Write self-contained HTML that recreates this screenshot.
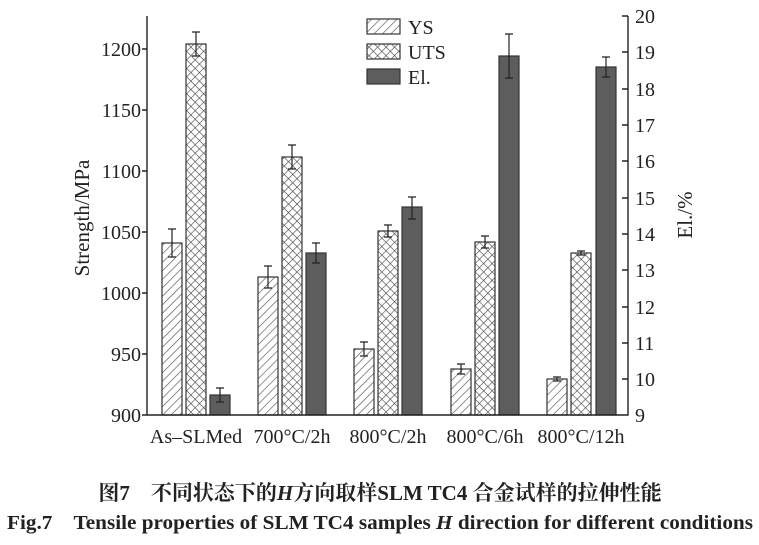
<!DOCTYPE html>
<html><head><meta charset="utf-8"><style>
body{margin:0;background:#fff;}
svg{display:block;font-family:"Liberation Serif",serif;}
</style></head><body>
<svg width="759" height="545" viewBox="0 0 759 545">
<defs>
<pattern id="hatch" width="6" height="6" patternUnits="userSpaceOnUse" patternTransform="rotate(45)">
<rect width="6" height="6" fill="#fff"/><line x1="0" y1="0" x2="0" y2="6" stroke="#555" stroke-width="1.3"/>
</pattern>
<pattern id="cross" width="6" height="6" patternUnits="userSpaceOnUse" patternTransform="rotate(45)">
<rect width="6" height="6" fill="#fff"/><line x1="0" y1="0" x2="0" y2="6" stroke="#444" stroke-width="1.2"/><line x1="0" y1="0" x2="6" y2="0" stroke="#444" stroke-width="1.2"/>
</pattern>
</defs>
<g stroke="#333" stroke-width="1.2">
<rect x="162" y="243" width="20" height="172" fill="url(#hatch)"/>
<rect x="186" y="44" width="20" height="371" fill="url(#cross)"/>
<rect x="210" y="395" width="20" height="20" fill="#5d5d5d"/>
<rect x="258" y="277" width="20" height="138" fill="url(#hatch)"/>
<rect x="282" y="157" width="20" height="258" fill="url(#cross)"/>
<rect x="306" y="253" width="20" height="162" fill="#5d5d5d"/>
<rect x="354" y="349" width="20" height="66" fill="url(#hatch)"/>
<rect x="378" y="231" width="20" height="184" fill="url(#cross)"/>
<rect x="402" y="207" width="20" height="208" fill="#5d5d5d"/>
<rect x="451" y="369" width="20" height="46" fill="url(#hatch)"/>
<rect x="475" y="242" width="20" height="173" fill="url(#cross)"/>
<rect x="499" y="56" width="20" height="359" fill="#5d5d5d"/>
<rect x="547" y="379" width="20" height="36" fill="url(#hatch)"/>
<rect x="571" y="253" width="20" height="162" fill="url(#cross)"/>
<rect x="596" y="67" width="20" height="348" fill="#5d5d5d"/>
<path fill="none" stroke="#222" d="
M172 229V257M168 229h8M168 257h8
M196 32V56M192 32h8M192 56h8
M220 388V402M216 388h8M216 402h8
M268 266V288M264 266h8M264 288h8
M292 145V169M288 145h8M288 169h8
M316 243V263M312 243h8M312 263h8
M364 342V356M360 342h8M360 356h8
M388 225V237M384 225h8M384 237h8
M412 197V219M408 197h8M408 219h8
M461 364V374M457 364h8M457 374h8
M485 236V248M481 236h8M481 248h8
M509 34V78M505 34h8M505 78h8
M557 377V381M553 377h8M553 381h8
M581 251V255M577 251h8M577 255h8
M606 57V77M602 57h8M602 77h8"/>
<path fill="none" stroke="#222" stroke-width="1.4" d="M147 16V415H628V16
M147 49h-5M147 110h-5M147 171h-5M147 232h-5M147 293h-5M147 354h-5M147 415h-5
M628 16h-6M628 52h-6M628 89h-6M628 125h-6M628 161h-6M628 198h-6M628 234h-6M628 270h-6M628 307h-6M628 343h-6M628 379h-6"/>
<rect x="367" y="19" width="33" height="15" fill="url(#hatch)"/>
<rect x="367" y="44" width="33" height="15" fill="url(#cross)"/>
<rect x="367" y="69" width="33" height="15" fill="#5d5d5d"/>
</g>
<g font-size="20" fill="#222">
<text x="408" y="34">YS</text>
<text x="408" y="59">UTS</text>
<text x="408" y="84">El.</text>
<g text-anchor="end">
<text x="141" y="56">1200</text><text x="141" y="117">1150</text><text x="141" y="178">1100</text>
<text x="141" y="239">1050</text><text x="141" y="300">1000</text><text x="141" y="361">950</text><text x="141" y="422">900</text>
</g>
<g>
<text x="635" y="23">20</text><text x="635" y="59">19</text><text x="635" y="96">18</text><text x="635" y="132">17</text>
<text x="635" y="168">16</text><text x="635" y="205">15</text><text x="635" y="241">14</text><text x="635" y="277">13</text>
<text x="635" y="314">12</text><text x="635" y="350">11</text><text x="635" y="386">10</text><text x="635" y="422">9</text>
</g>
<g text-anchor="middle">
<text x="196" y="443">As–SLMed</text><text x="292" y="443">700°C/2h</text><text x="388" y="443">800°C/2h</text>
<text x="485" y="443">800°C/6h</text><text x="581" y="443">800°C/12h</text>
<text transform="translate(89,218) rotate(-90)" font-size="21">Strength/MPa</text>
<text transform="translate(692,215) rotate(-90)" font-size="21">El./%</text>
</g>
</g>
<text x="380" y="500" text-anchor="middle" font-size="21" font-weight="bold" fill="#222" font-family="'Liberation Serif','Noto Serif CJK SC',serif">图7　不同状态下的<tspan font-style="italic">H</tspan>方向取样SLM TC4 合金试样的拉伸性能</text>
<text x="380" y="529" text-anchor="middle" font-size="20" font-weight="bold" fill="#222" textLength="746" lengthAdjust="spacingAndGlyphs">Fig.7　Tensile properties of SLM TC4 samples <tspan font-style="italic">H</tspan> direction for different conditions</text>
</svg>
</body></html>
